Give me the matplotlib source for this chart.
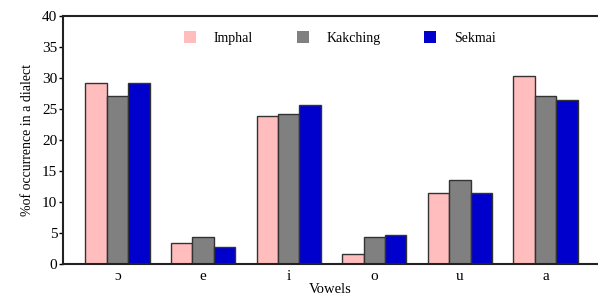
import matplotlib
matplotlib.use("Agg")
import matplotlib.pyplot as plt
from matplotlib.lines import Line2D
import numpy as np

plt.rcParams['font.family'] = ['Liberation Serif', 'DejaVu Serif']

categories = ['ɔ', 'e', 'i', 'o', 'u', 'a']
series_names = ['Imphal', 'Kakching', 'Sekmai']
imphal = [29.1, 3.4, 23.8, 1.6, 11.5, 30.3]
kakching = [27.0, 4.4, 24.1, 4.3, 13.5, 27.0]
sekmai = [29.2, 2.8, 25.6, 4.6, 11.5, 26.4]
colors = ['#FFBDBD', '#808080', '#0000CC']

fig = plt.figure(figsize=(5.98, 2.99), dpi=100)
ax = fig.add_axes([0.105, 0.117, 0.893, 0.831])
x = np.arange(len(categories))
w = 0.25
for i, (vals, name, c) in enumerate(zip([imphal, kakching, sekmai], series_names, colors)):
    ax.bar(x + (i - 1) * w, vals, width=w, color=c, edgecolor='#333333', linewidth=1.0, label=name)

ax.set_xlim(-0.64, 5.6)
ax.set_ylim(0, 40)
ax.set_yticks(range(0, 41, 5))
ax.set_xticks(x)
ax.set_xticklabels(categories, fontsize=11)
ax.tick_params(axis='x', length=0, pad=4)
ax.tick_params(axis='y', labelsize=11, length=3, width=1, direction='out', pad=1)
ax.spines['right'].set_visible(False)
for s in ['top', 'left', 'bottom']:
    ax.spines[s].set_linewidth(1.5)
    ax.spines[s].set_color('#222222')
ax.set_ylabel('%of occurrence in a dialect', fontsize=10, labelpad=6)
ax.set_xlabel('Vowels', fontsize=10.5, labelpad=0)
handles = [Line2D([], [], marker='s', linestyle='none', markersize=8, markerfacecolor=c,
                  markeredgewidth=0) for c in colors]
ax.legend(handles, series_names, loc='upper center', bbox_to_anchor=(0.519, 0.985), ncol=3,
          frameon=False, fontsize=10, handlelength=0.8, columnspacing=3.2, handletextpad=1.3)
fig.savefig('out.png', dpi=100)
